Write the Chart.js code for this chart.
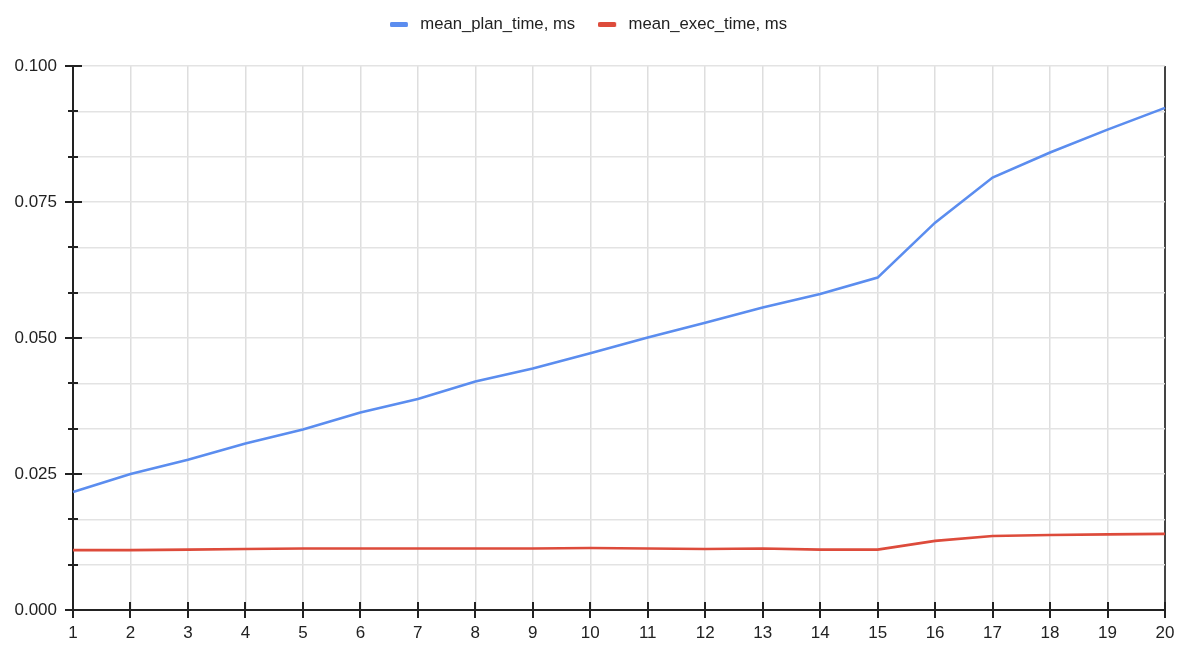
<!DOCTYPE html>
<html>
<head>
<meta charset="utf-8">
<script src="https://cdn.jsdelivr.net/npm/chart.js@4.4.0/dist/chart.umd.min.js"></script>
<style>
html,body{margin:0;padding:0;background:#fff;}
#wrap{width:1200px;height:648px;position:relative;}
</style>
</head>
<body>
<div id="wrap"><canvas id="c"></canvas></div>
<script>
const categories = ['1','2','3','4','5','6','7','8','9','10','11','12','13','14','15','16','17','18','19','20'];
const meanPlanTime = [0.0217,0.0250,0.0276,0.0306,0.0332,0.0363,0.0388,0.0420,0.0444,0.0472,0.0501,0.0528,0.0556,0.0581,0.0611,0.0712,0.0795,0.0841,0.0883,0.0923];
const meanExecTime = [0.0110,0.0110,0.0111,0.0112,0.0113,0.0113,0.0113,0.0113,0.0113,0.0114,0.0113,0.0112,0.0113,0.0111,0.0111,0.0127,0.0136,0.0138,0.0139,0.0140];
const seriesNames = ['mean_plan_time, ms','mean_exec_time, ms'];
const yMajorTicks = [0, 0.025, 0.05, 0.075, 0.1];
const yMinorPerMajor = 3;

const BLUE = '#5b8def';
const RED = '#dd4b3b';
const FONT = "'Liberation Sans', Arial, sans-serif";

function isMajor(v){
  return yMajorTicks.some(m => Math.abs(m - v) < 1e-9);
}

// legend marker: short rounded bar, left-aligned in a slightly wider box
function legendMarker(color){
  const c = document.createElement('canvas');
  c.width = 22; c.height = 5;
  const g = c.getContext('2d');
  g.fillStyle = color;
  g.beginPath();
  if (g.roundRect) g.roundRect(0, 0, 18, 5, 1.5); else g.rect(0, 0, 18, 5);
  g.fill();
  return c;
}

const legendLayoutPlugin = {
  id: 'legendLayout',
  beforeLayout(chart){
    const lg = chart.legend;
    if (lg && !lg._patched){
      const orig = lg.fit;
      lg.fit = function(){ orig.call(this); this.height = 66; };
      lg._patched = true;
    }
  },
  afterLayout(chart){
    const lg = chart.legend;
    if (lg){ lg.top = -7; lg.bottom = lg.top + lg.height; }
  }
};

const tickMarksPlugin = {
  id: 'tickMarks',
  afterDraw(chart){
    const ctx = chart.ctx;
    const xs = chart.scales.x, ys = chart.scales.y;
    const left = chart.chartArea.left, bottom = chart.chartArea.bottom;
    ctx.save();
    ctx.strokeStyle = '#222';
    ctx.lineWidth = 2;
    ctx.beginPath();
    xs.ticks.forEach((t, i) => {
      const px = Math.round(xs.getPixelForTick(i));
      ctx.moveTo(px, bottom - 8);
      ctx.lineTo(px, bottom + 8);
    });
    ys.ticks.forEach(t => {
      const py = Math.round(ys.getPixelForValue(t.value));
      if (isMajor(t.value)){
        ctx.moveTo(left - 8, py); ctx.lineTo(left + 9, py);
      } else {
        ctx.moveTo(left - 5, py); ctx.lineTo(left + 5, py);
      }
    });
    ctx.stroke();
    ctx.restore();
  }
};

new Chart(document.getElementById('c'), {
  type: 'line',
  data: {
    labels: categories,
    datasets: [
      { label: seriesNames[0], data: meanPlanTime, borderColor: BLUE, backgroundColor: BLUE, borderWidth: 2.6, pointRadius: 0, pointStyle: legendMarker(BLUE), tension: 0 },
      { label: seriesNames[1], data: meanExecTime, borderColor: RED, backgroundColor: RED, borderWidth: 2.6, pointRadius: 0, pointStyle: legendMarker(RED), tension: 0 }
    ]
  },
  options: {
    responsive: true,
    maintainAspectRatio: false,
    animation: false,
    layout: { padding: { left: 12, right: 35, top: 0, bottom: 0 } },
    plugins: {
      legend: {
        position: 'top',
        labels: {
          usePointStyle: true,
          pointStyleWidth: 22,
          boxHeight: 5,
          padding: 23,
          color: '#222',
          font: { family: FONT, size: 16.7 }
        }
      },
      tooltip: { enabled: false }
    },
    scales: {
      x: {
        offset: false,
        grid: {
          drawTicks: false,
          color: ctx => (ctx.index === categories.length - 1 ? '#444' : '#dedede'),
          lineWidth: ctx => (ctx.index === categories.length - 1 ? 2 : 1.5)
        },
        border: { display: true, color: '#222', width: 2 },
        ticks: { color: '#222', font: { family: FONT, size: 17 }, padding: 13, maxRotation: 0, autoSkip: false },
        afterFit(scale){ scale.height = 38; }
      },
      y: {
        min: yMajorTicks[0],
        max: yMajorTicks[yMajorTicks.length - 1],
        afterBuildTicks(scale){
          const t = [];
          for (let i = 0; i < yMajorTicks.length - 1; i++){
            const step = (yMajorTicks[i+1] - yMajorTicks[i]) / yMinorPerMajor;
            for (let j = 0; j < yMinorPerMajor; j++) t.push({ value: yMajorTicks[i] + j * step });
          }
          t.push({ value: yMajorTicks[yMajorTicks.length - 1] });
          scale.ticks = t;
        },
        grid: { drawTicks: false, color: '#e3e3e3', lineWidth: 1.5 },
        border: { display: true, color: '#222', width: 2 },
        ticks: {
          color: '#222',
          font: { family: FONT, size: 17 },
          padding: 16,
          autoSkip: false,
          callback: v => (isMajor(v) ? v.toFixed(3) : '')
        },
        afterFit(scale){ scale.width = 61; }
      }
    }
  },
  plugins: [legendLayoutPlugin, tickMarksPlugin]
});
</script>
</body>
</html>
